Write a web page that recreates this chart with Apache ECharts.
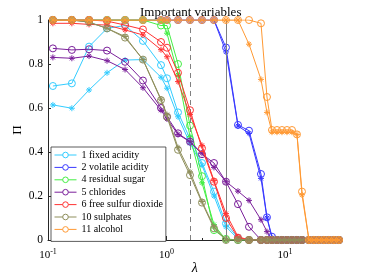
<!DOCTYPE html>
<html>
<head>
<meta charset="utf-8">
<script src="https://cdn.jsdelivr.net/npm/echarts@6/dist/echarts.min.js"></script>
<style>
html,body{margin:0;padding:0;background:#fff;}
#chart{width:374px;height:280px;}
</style>
</head>
<body>
<div id="chart"></div>
<script>
// lambda grid (x values)
const lambdas = [0.110,0.159,0.222,0.315,0.447,0.633,0.899,1.010,1.251,1.579,1.993,2.517,3.178,4.012,4.970,6.274,7.050,7.770,8.563,9.434,10.40,11.46,12.63,13.92,15.94,17.57,19.36,21.34,23.51,25.91,28.56];

const names = ['1 fixed acidity','2 volatile acidity','4 residual sugar','5 chlorides','6 free sulfur dioxide','10 sulphates','11 alcohol'];
const colors = ['#33ccff','#3838ff','#44ee44','#7a1f9a','#ff3333','#8f8f5c','#ff9933'];

// circles (method A)
const fixedAcidityC = [0.70,0.712,0.879,0.962,0.975,0.905,0.795,0.735,0.58,0.46,0.35,0.22,0.075,0.01,0,0,0,0,0,0,0,0,0,0,0,0,0,0,0,0,0];
const volatileAcidityC = [1,1,1,1,1,1,1,1,1,1,1,1,0.875,0.523,0.497,0.30,0.103,0.015,0,0,0,0,0,0,0,0,0,0,0,0,0];
const residualSugarC = [1,1,1,1,1,1,0.975,0.975,0.80,0.52,0.29,0.045,0.005,0,0,0,0,0,0,0,0,0,0,0,0,0,0,0,0,0,0];
const chloridesC = [0.871,0.864,0.867,0.861,0.81,0.725,0.60,0.56,0.485,0.447,0.39,0.35,0.265,0.163,0.06,0,0,0,0,0,0,0,0,0,0,0,0,0,0,0,0];
const freeSulfurC = [1,1,1,0.995,0.977,0.957,0.90,0.874,0.76,0.59,0.417,0.265,0.10,0.01,0,0,0,0,0,0,0,0,0,0,0,0,0,0,0,0,0];
const sulphatesC = [1,1,0.99,0.962,0.92,0.82,0.636,0.56,0.41,0.295,0.17,0.053,0,0,0,0,0,0,0,0,0,0,0,0,0,0,0,0,0,0,0];
const alcoholC = [1,1,1,1,1,1,1,1,1,1,1,1,1,1,1,0.985,0.65,0.50,0.50,0.50,0.50,0.50,0.48,0.22,0,0,0,0,0,0,0];

// asterisks (method B)
const fixedAcidityS = [0.614,0.599,0.682,0.760,0.818,0.82,0.74,0.69,0.56,0.44,0.34,0.20,0.06,0.005,0,0,0,0,0,0,0,0,0,0,0,0,0,0,0,0,0];
const volatileAcidityS = [1,1,1,1,1,1,1,1,1,1,1,1,0.855,0.518,0.485,0.28,0.10,0.01,0,0,0,0,0,0,0,0,0,0,0,0,0];
const residualSugarS = [1,1,1,1,1,1,1,0.94,0.75,0.47,0.26,0.07,0,0,0,0,0,0,0,0,0,0,0,0,0,0,0,0,0,0,0];
const chloridesS = [0.830,0.826,0.836,0.815,0.775,0.692,0.59,0.55,0.48,0.447,0.394,0.33,0.265,0.222,0.18,0.092,0.038,0,0,0,0,0,0,0,0,0,0,0,0,0,0];
const freeSulfurS = [0.985,0.985,0.98,0.977,0.955,0.932,0.865,0.833,0.72,0.57,0.43,0.27,0.12,0.015,0,0,0,0,0,0,0,0,0,0,0,0,0,0,0,0,0];
const sulphatesS = [1,1,0.99,0.962,0.925,0.82,0.64,0.57,0.42,0.31,0.175,0.06,0,0,0,0,0,0,0,0,0,0,0,0,0,0,0,0,0,0,0];
const alcoholS = [1,1,1,1,1,1,1,1,1,1,1,1,1,1,0.89,0.73,0.58,0.49,0.49,0.49,0.49,0.49,0.48,0.205,0,0,0,0,0,0,0];

const circleSets = [fixedAcidityC,volatileAcidityC,residualSugarC,chloridesC,freeSulfurC,sulphatesC,alcoholC];
const starSets = [fixedAcidityS,volatileAcidityS,residualSugarS,chloridesS,freeSulfurS,sulphatesS,alcoholS];

const xMajorTicks = [0.1,1,10];
const xMinorTicks = [0.2,0.3,0.4,0.5,0.6,0.7,0.8,0.9,2,3,4,5,6,7,8,9,20,30];
const dashedLambda = 1.579;
const solidLambda = 3.178;

const FONT = 'Liberation Serif';
const AX = '#262626';
const starPath = 'path://M5,0L5,10M0,5L10,5M1.6,1.6L8.4,8.4M1.6,8.4L8.4,1.6';

const series = [];
names.forEach((n,i)=>{
  const c = colors[i];
  series.push({
    name: n, type:'line', xAxisIndex:0,
    data: lambdas.map((x,k)=>[x, circleSets[i][k]]),
    symbol:'circle', symbolSize:7,
    lineStyle:{color:c,width:1},
    itemStyle:{color:'transparent',borderColor:c,borderWidth:1},
    emphasis:{disabled:true}, z: 2+i
  });
  series.push({
    name: n+' *', type:'line', xAxisIndex:0,
    data: lambdas.map((x,k)=>[x, starSets[i][k]]),
    symbol:starPath, symbolSize:6,
    lineStyle:{color:c,width:1},
    itemStyle:{color:'transparent',borderColor:c,borderWidth:1},
    emphasis:{disabled:true}, z: 2+i
  });
});
series.push({
  name:'lines', type:'line', data:[], xAxisIndex:0,
  markLine:{
    silent:true, symbol:'none', label:{show:false},
    data:[
      {xAxis: dashedLambda, lineStyle:{color:'#808080',width:1,type:[5,4]}},
      {xAxis: solidLambda, lineStyle:{color:'#808080',width:1,type:'solid'}}
    ]
  }, z: 20
});

const legendData = names.map((n,i)=>({
  name:n,
  itemStyle:{color:'#fff',borderColor:colors[i],borderWidth:1},
  lineStyle:{color:colors[i],width:1}
}));

const chart = echarts.init(document.getElementById('chart'), null, {renderer:'canvas'});
chart.setOption({
  animation:false,
  backgroundColor:'#fff',
  title:{
    text:'Important variables', left:140, top:6, padding:0,
    textStyle:{fontFamily:FONT,fontSize:13,fontWeight:'normal',color:'#000'}
  },
  grid:{left:48,right:32.5,top:20,bottom:40,containLabel:false,outerBoundsMode:'none'},
  legend:{
    data:legendData, orient:'vertical', left:51, top:147,
    padding:[2,3,6,3], itemGap:0.4, itemWidth:22, itemHeight:7,
    backgroundColor:'#fff', borderColor:'#333', borderWidth:0.8,
    textStyle:{fontFamily:FONT,fontSize:10,color:'#000',lineHeight:12},
    lineStyle:{width:1},
    selectedMode:false
  },
  xAxis:[{
    type:'log', logBase:10, min:0.1, max:30,
    name:'λ', nameLocation:'middle', nameGap:21, nameMoveOverlap:false,
    nameTextStyle:{fontFamily:FONT,fontSize:14,fontStyle:'italic',color:'#000'},
    axisLine:{lineStyle:{color:AX,width:1}},
    axisTick:{inside:true,length:4,customValues:xMajorTicks,lineStyle:{color:AX}},
    axisLabel:{
      customValues:xMajorTicks, margin:8,
      formatter:v=>'{b|10}{s|'+Math.round(Math.log10(v))+'}',
      rich:{
        b:{fontFamily:FONT,fontSize:11,color:'#000'},
        s:{fontFamily:FONT,fontSize:8,color:'#000',padding:[0,0,7,0]}
      }
    },
    splitLine:{show:false}, minorTick:{show:false}
  },{
    type:'log', logBase:10, min:0.1, max:30, position:'bottom',
    axisLine:{show:false},
    axisTick:{inside:true,length:2,customValues:xMinorTicks,lineStyle:{color:AX}},
    axisLabel:{show:false}, splitLine:{show:false}
  }],
  yAxis:{
    type:'value', min:0, max:1, interval:0.2,
    name:'Π', nameLocation:'middle', nameGap:24, nameRotate:90, nameMoveOverlap:false,
    nameTextStyle:{fontFamily:FONT,fontSize:13,color:'#000'},
    axisLine:{show:true,lineStyle:{color:AX,width:1}},
    axisTick:{show:true,inside:true,length:3,lineStyle:{color:AX}},
    axisLabel:{fontFamily:FONT,fontSize:11.5,color:'#000',margin:5},
    splitLine:{show:false}
  },
  series: series
});
</script>
</body>
</html>
